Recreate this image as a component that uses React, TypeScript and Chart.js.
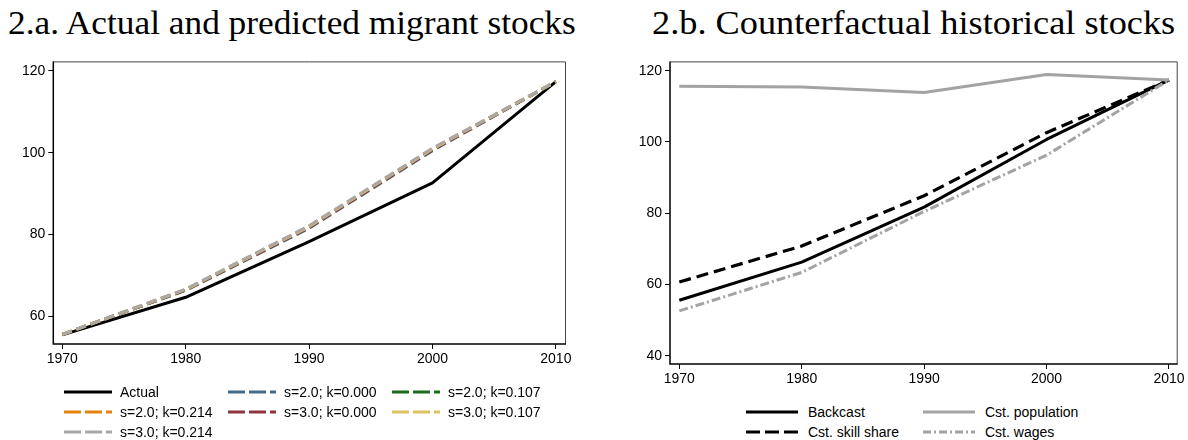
import React, { useEffect, useRef } from "react";
import { Chart, registerables } from "chart.js";
Chart.register(...registerables);

// ---------- data ----------
const years = [1970, 1980, 1990, 2000, 2010];
const xTicks = [1970, 1980, 1990, 2000, 2010];
const leftYTicks = [60, 80, 100, 120];
const rightYTicks = [40, 60, 80, 100, 120];

// Panel 2.a
const actual = [55.4, 64.6, 78.2, 92.6, 117.4];
const s20k000 = [55.5, 66.3, 81.5, 100.5, 117.4];
const s30k000 = [55.5, 66.4, 81.7, 100.7, 117.4];
const s20k107 = [55.5, 66.4, 81.8, 100.8, 117.4];
const s30k107 = [55.5, 66.5, 81.9, 100.9, 117.4];
const s20k214 = [55.5, 66.5, 82.0, 101.0, 117.4];
const s30k214 = [55.5, 66.6, 82.1, 101.1, 117.4];

// Panel 2.b
const backcast = [55.6, 66.3, 81.7, 100.7, 117.4];
const skillShare = [60.7, 70.8, 84.9, 102.6, 117.4];
const population = [115.6, 115.4, 113.9, 118.9, 117.4];
const wages = [52.6, 63.4, 80.5, 96.3, 117.4];

const titleLeft = "2.a. Actual and predicted migrant stocks";
const titleRight = "2.b. Counterfactual historical stocks";

// ---------- styles ----------
const BLUE = "#466985";
const RED = "#90353b";
const GREEN = "#1a6e1a";
const ORANGE = "#e8820a";
const YELLOW = "#e0c160";
const GRAY = "#a8a8a8";
const LGRAY = "#a3a3a3";

const SANS = "'Liberation Sans', Arial, Helvetica, sans-serif";

type Series = {
  label: string;
  values: number[];
  color: string;
  width: number;
  dash: number[];
  legendDash: string;
};

const leftSeries: Series[] = [
  { label: "Actual", values: actual, color: "#000000", width: 3, dash: [], legendDash: "" },
  { label: "s=2.0; k=0.000", values: s20k000, color: BLUE, width: 3, dash: [10, 5], legendDash: "17 4" },
  { label: "s=2.0; k=0.107", values: s20k107, color: GREEN, width: 3, dash: [10, 5], legendDash: "17 4" },
  { label: "s=2.0; k=0.214", values: s20k214, color: ORANGE, width: 3, dash: [10, 5], legendDash: "17 4" },
  { label: "s=3.0; k=0.000", values: s30k000, color: RED, width: 3, dash: [10, 5], legendDash: "17 4" },
  { label: "s=3.0; k=0.107", values: s30k107, color: YELLOW, width: 3, dash: [10, 5], legendDash: "17 4" },
  { label: "s=3.0; k=0.214", values: s30k214, color: GRAY, width: 3, dash: [10, 5], legendDash: "17 4" },
];
// legend grid order (row-major, 3 columns)
const leftLegendOrder = [
  "Actual", "s=2.0; k=0.000", "s=2.0; k=0.107",
  "s=2.0; k=0.214", "s=3.0; k=0.000", "s=3.0; k=0.107",
  "s=3.0; k=0.214",
];

const rightSeries: Series[] = [
  { label: "Backcast", values: backcast, color: "#000000", width: 3, dash: [], legendDash: "" },
  { label: "Cst. skill share", values: skillShare, color: "#000000", width: 3.2, dash: [12, 6], legendDash: "14 5" },
  { label: "Cst. population", values: population, color: LGRAY, width: 3, dash: [], legendDash: "" },
  { label: "Cst. wages", values: wages, color: LGRAY, width: 3, dash: [9, 3, 2, 3], legendDash: "8 3 2 3" },
];
const rightLegendOrder = ["Backcast", "Cst. population", "Cst. skill share", "Cst. wages"];

const framePlugin = {
  id: "frame",
  afterDraw(chart: any) {
    const { ctx, chartArea: a } = chart;
    ctx.save();
    ctx.strokeStyle = "#444";
    ctx.lineWidth = 1;
    ctx.beginPath();
    ctx.moveTo(a.left, a.top + 0.5);
    ctx.lineTo(a.right + 0.5, a.top + 0.5);
    ctx.lineTo(a.right + 0.5, a.bottom);
    ctx.stroke();
    ctx.strokeStyle = "#000";
    ctx.lineWidth = 1.5;
    ctx.beginPath();
    ctx.moveTo(a.left, a.top);
    ctx.lineTo(a.left, a.bottom);
    ctx.lineTo(a.right + 1, a.bottom);
    ctx.stroke();
    ctx.restore();
  },
};

type PanelProps = {
  left: number;
  top: number;
  width: number;
  height: number;
  series: Series[];
  yTicks: number[];
  xMin: number;
  xMax: number;
  yMin: number;
  yMax: number;
  yAxisWidth: number;
  xAxisHeight: number;
  padTop: number;
  padRight: number;
};

function Panel(p: PanelProps) {
  const ref = useRef<HTMLCanvasElement>(null);
  useEffect(() => {
    if (!ref.current) return;
    // draw later series on top: Chart.js draws index 0 last
    const ds = [...p.series].reverse().map((s) => ({
      label: s.label,
      data: years.map((x, i) => ({ x, y: s.values[i] })),
      borderColor: s.color,
      backgroundColor: s.color,
      borderWidth: s.width,
      borderDash: s.dash,
      borderCapStyle: "butt" as const,
      borderJoinStyle: "round" as const,
      pointRadius: 0,
      tension: 0,
      fill: false,
    }));
    const chart = new Chart(ref.current, {
      type: "line",
      data: { datasets: ds },
      options: {
        animation: false,
        responsive: false,
        maintainAspectRatio: false,
        layout: { padding: { top: p.padTop, right: p.padRight, left: 0, bottom: 0 } },
        plugins: { legend: { display: false }, tooltip: { enabled: false }, title: { display: false } },
        scales: {
          x: {
            type: "linear",
            min: p.xMin,
            max: p.xMax,
            afterBuildTicks: (s: any) => {
              s.ticks = xTicks.map((v) => ({ value: v }));
            },
            afterFit: (s: any) => {
              s.height = p.xAxisHeight;
            },
            border: { display: false },
            grid: { drawOnChartArea: false, drawTicks: true, tickLength: 5, color: "#000", lineWidth: 1 },
            ticks: {
              color: "#000",
              font: { family: SANS, size: 14 },
              padding: 2,
              maxRotation: 0,
              autoSkip: false,
              callback: (v: any) => String(v),
            },
          },
          y: {
            type: "linear",
            min: p.yMin,
            max: p.yMax,
            afterBuildTicks: (s: any) => {
              s.ticks = p.yTicks.map((v) => ({ value: v }));
            },
            afterFit: (s: any) => {
              s.width = p.yAxisWidth;
            },
            border: { display: false },
            grid: { drawOnChartArea: false, drawTicks: true, tickLength: 5, color: "#000", lineWidth: 1 },
            ticks: {
              color: "#000",
              font: { family: SANS, size: 14 },
              padding: 3,
              autoSkip: false,
              callback: (v: any) => String(v),
            },
          },
        },
      },
      plugins: [framePlugin],
    });
    return () => chart.destroy();
  }, []);
  return (
    <canvas
      ref={ref}
      width={p.width}
      height={p.height}
      style={{ position: "absolute", left: p.left, top: p.top, width: p.width, height: p.height }}
    />
  );
}

function LegendSwatch({ s, w }: { s: Series; w: number }) {
  return (
    <svg width={w} height={10} style={{ display: "block", flex: "none" }}>
      <line
        x1={0}
        y1={5}
        x2={w}
        y2={5}
        stroke={s.color}
        strokeWidth={3}
        strokeDasharray={s.legendDash || undefined}
      />
    </svg>
  );
}

function Legend(props: {
  left: number;
  top: number;
  series: Series[];
  order: string[];
  cols: number;
  colWidth: number;
  rowHeight: number;
  swatch: number;
  gap: number;
}) {
  const items = props.order.map((l) => props.series.find((s) => s.label === l)!);
  return (
    <div
      style={{
        position: "absolute",
        left: props.left,
        top: props.top,
        display: "grid",
        gridTemplateColumns: `repeat(${props.cols}, ${props.colWidth}px)`,
        gridAutoRows: `${props.rowHeight}px`,
        fontFamily: SANS,
        fontSize: 14,
        color: "#000",
      }}
    >
      {items.map((s) => (
        <div key={s.label} style={{ display: "flex", alignItems: "center", whiteSpace: "nowrap" }}>
          <LegendSwatch s={s} w={props.swatch} />
          <span style={{ marginLeft: props.gap, lineHeight: "16px" }}>{s.label}</span>
        </div>
      ))}
    </div>
  );
}

const titleStyle: React.CSSProperties = {
  position: "absolute",
  top: 3,
  fontFamily: "'Liberation Serif', 'DejaVu Serif', serif",
  fontSize: 33,
  lineHeight: "40px",
  whiteSpace: "nowrap",
  color: "#000",
  transformOrigin: "0 0",
};

export default function App() {
  return (
    <div style={{ position: "absolute", left: 0, top: 0, width: 1188, height: 440, background: "#fff", overflow: "hidden" }}>
      <div style={{ ...titleStyle, left: 8, transform: "scaleX(1.07)" }}>{titleLeft}</div>
      <div style={{ ...titleStyle, left: 652, transform: "scaleX(1.1)" }}>{titleRight}</div>
      <Panel
        left={0}
        top={50}
        width={594}
        height={340}
        series={leftSeries}
        yTicks={leftYTicks}
        xMin={1969.27}
        xMax={2010.74}
        yMin={53.16}
        yMax={122.35}
        yAxisWidth={53.3}
        xAxisHeight={46}
        padTop={8}
        padRight={29}
      />
      <Panel
        left={594}
        top={50}
        width={594}
        height={340}
        series={rightSeries}
        yTicks={rightYTicks}
        xMin={1969.24}
        xMax={2010.63}
        yMin={37.7}
        yMax={122.6}
        yAxisWidth={76}
        xAxisHeight={26}
        padTop={8}
        padRight={11.3}
      />
      <Legend
        left={64}
        top={381.5}
        series={leftSeries}
        order={leftLegendOrder}
        cols={3}
        colWidth={164}
        rowHeight={20.3}
        swatch={48}
        gap={8}
      />
      <Legend
        left={746}
        top={402}
        series={rightSeries}
        order={rightLegendOrder}
        cols={2}
        colWidth={177}
        rowHeight={20}
        swatch={52}
        gap={10}
      />
    </div>
  );
}
